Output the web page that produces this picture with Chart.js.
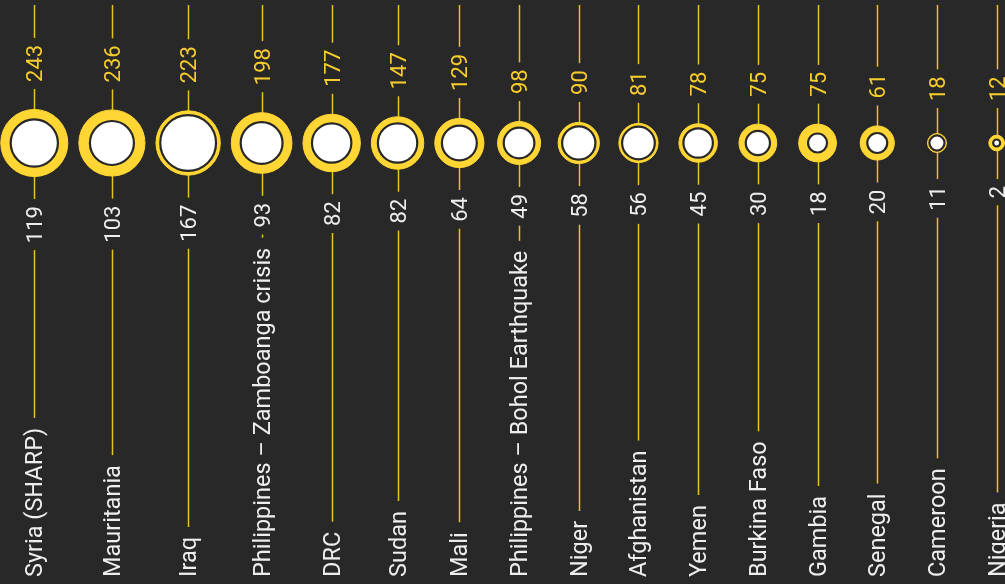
<!DOCTYPE html>
<html>
<head>
<meta charset="utf-8">
<script src="https://cdn.jsdelivr.net/npm/chart.js@4"></script>
<style>
  body { margin: 0; background: #282828; }
  #wrap { width: 1005px; height: 584px; }
</style>
</head>
<body>
<div id="wrap"><canvas id="bubbleChart"></canvas></div>
<script>
const countries = [
  'Syria (SHARP)', 'Mauritania', 'Iraq', 'Philippines – Zamboanga crisis', 'DRC',
  'Sudan', 'Mali', 'Philippines – Bohol Earthquake', 'Niger', 'Afghanistan',
  'Yemen', 'Burkina Faso', 'Gambia', 'Senegal', 'Cameroon', 'Nigeria'
];
const topValues = [243, 236, 223, 198, 177, 147, 129, 98, 90, 81, 78, 75, 75, 61, 18, 12];
const bottomValues = [119, 103, 167, 93, 82, 82, 64, 49, 58, 56, 45, 30, 18, 20, 11, 2];

const bg = '#282828';
const yellow = '#ffd633';
const lineColor = '#e9c21c';
const k = 2.12; // px radius per sqrt(value)
const gap = 12;
const minStep = 59.7;

function radius(v) {
  return k * Math.sqrt(v);
}

// place the circles next to each other, never closer than minStep
const positions = [];
topValues.forEach((v, i) => {
  if (i === 0) {
    positions.push(0);
  } else {
    const step = Math.max(minStep, radius(topValues[i - 1]) + radius(v) + gap);
    positions.push(positions[i - 1] + step);
  }
});

const outerData = topValues.map((v, i) => ({ x: positions[i], y: 0, r: radius(v) + 0.5 }));
const innerData = bottomValues.map((v, i) => ({ x: positions[i], y: 0, r: radius(v) + 0.5 }));

function rotatedText(ctx, text, x, y, align, font, color) {
  ctx.save();
  ctx.translate(x, y);
  ctx.rotate(-Math.PI / 2);
  ctx.font = font;
  ctx.fillStyle = color;
  ctx.textAlign = align;
  ctx.textBaseline = 'alphabetic';
  ctx.fillText(text, 0, 8);
  ctx.restore();
}

function vline(ctx, x, y1, y2) {
  if (y2 <= y1) return;
  ctx.beginPath();
  ctx.moveTo(x, y1);
  ctx.lineTo(x, y2);
  ctx.stroke();
}

const numFont = '22px Roboto';
const labelFont = '23.5px Roboto';

const columnsPlugin = {
  id: 'columns',
  beforeDraw(chart) {
    const ctx = chart.ctx;
    ctx.save();
    ctx.fillStyle = bg;
    ctx.fillRect(0, 0, chart.width, chart.height);
    ctx.restore();
  },
  beforeDatasetsDraw(chart) {
    const ctx = chart.ctx;
    const cy = chart.scales.y.getPixelForValue(0);
    ctx.save();
    ctx.strokeStyle = lineColor;
    ctx.lineWidth = 1.5;
    countries.forEach((name, i) => {
      const x = Math.round(chart.scales.x.getPixelForValue(positions[i])) + 0.5;
      const r = radius(topValues[i]);

      ctx.font = numFont;
      const topW = ctx.measureText(String(topValues[i])).width;
      const botW = ctx.measureText(String(bottomValues[i])).width;
      ctx.font = labelFont;
      const labelW = ctx.measureText(name).width;

      const topStart = Math.min(cy - r - 28, 101);
      const botEnd = Math.max(cy + r + 30, 186);
      const labelStart = 577;

      vline(ctx, x, 5, topStart - topW - 7);
      vline(ctx, x, topStart + 7, botEnd - 7);
      vline(ctx, x, botEnd + botW + 7, labelStart - labelW - 10);
    });
    ctx.restore();
  },
  afterDraw(chart) {
    const ctx = chart.ctx;
    const cy = chart.scales.y.getPixelForValue(0);
    countries.forEach((name, i) => {
      const x = Math.round(chart.scales.x.getPixelForValue(positions[i]));
      const r = radius(topValues[i]);
      const topStart = Math.min(cy - r - 28, 101);
      const botEnd = Math.max(cy + r + 30, 186);
      rotatedText(ctx, String(topValues[i]), x, topStart, 'left', numFont, '#f7cd2c');
      rotatedText(ctx, String(bottomValues[i]), x, botEnd, 'right', numFont, '#ededed');
      rotatedText(ctx, name, x, 577, 'left', labelFont, '#eeeeee');
    });
  }
};

const ctx = document.getElementById('bubbleChart').getContext('2d');
new Chart(ctx, {
  type: 'bubble',
  data: {
    datasets: [
      {
        label: 'bottom',
        data: innerData,
        backgroundColor: '#ffffff',
        borderColor: bg,
        borderWidth: 2.2,
        clip: false,
        order: 0
      },
      {
        label: 'top',
        data: outerData,
        backgroundColor: yellow,
        borderColor: yellow,
        borderWidth: 1,
        clip: false,
        order: 1
      }
    ]
  },
  options: {
    responsive: true,
    maintainAspectRatio: false,
    animation: false,
    events: [],
    layout: {
      autoPadding: false,
      padding: { top: 0, left: 0, right: 0, bottom: 298 }
    },
    plugins: {
      legend: { display: false },
      tooltip: { enabled: false }
    },
    scales: {
      x: {
        type: 'linear',
        display: false,
        min: -34.3,
        max: 1005 - 34.3
      },
      y: {
        display: false,
        min: -1,
        max: 1
      }
    }
  },
  plugins: [columnsPlugin]
});
</script>
</body>
</html>
